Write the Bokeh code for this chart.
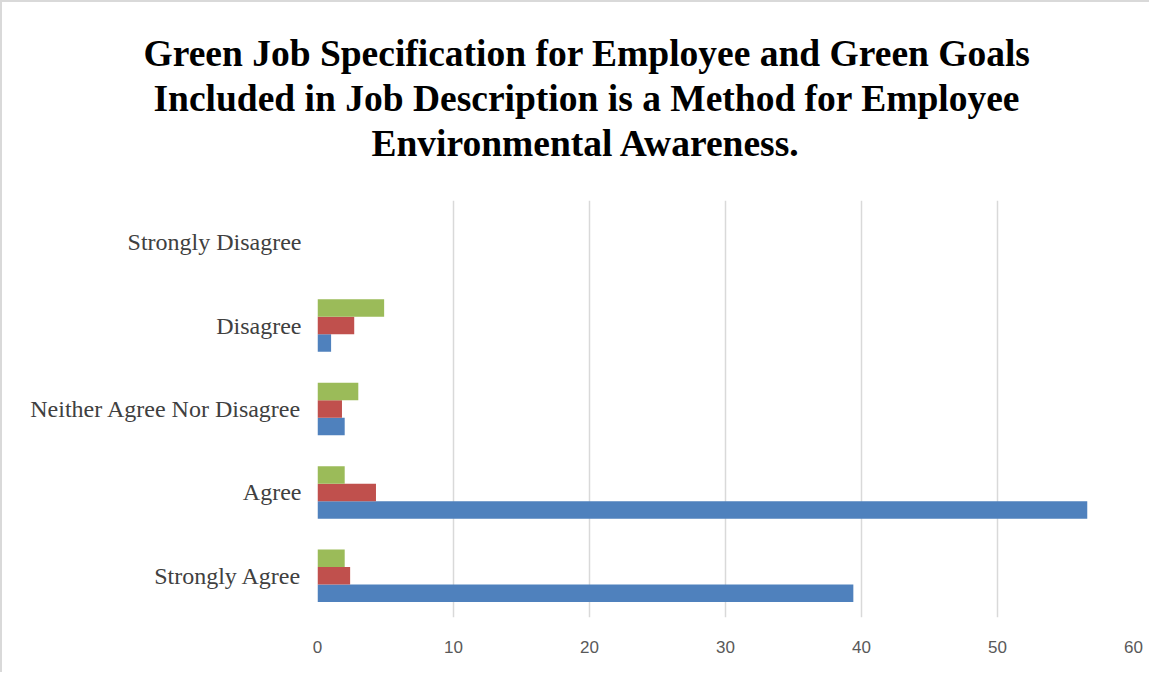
from bokeh.plotting import figure
from bokeh.models import ColumnDataSource, FactorRange, Range1d, Title, FixedTicker
from bokeh.transform import dodge
from bokeh.embed import file_html
from bokeh.resources import INLINE

categories = ["Strongly Agree", "Agree", "Neither Agree Nor Disagree", "Disagree", "Strongly Disagree"]
series_blue = [39.4, 56.6, 2.0, 1.0, 0.0]
series_red = [2.4, 4.3, 1.8, 2.7, 0.0]
series_green = [2.0, 2.0, 3.0, 4.9, 0.0]
x_ticks = [0, 10, 20, 30, 40, 50, 60]
title_lines = [
    "Green Job Specification for Employee and Green Goals",
    "Included in Job Description is a Method for Employee",
    "Environmental Awareness.",
]
title_offsets = [-174, -164, 54]

source = ColumnDataSource(dict(cat=categories, blue=series_blue, red=series_red, green=series_green))

p = figure(
    width=1149, height=672,
    y_range=FactorRange(factors=categories),
    x_range=Range1d(0, 60),
    output_backend="svg", toolbar_location=None,
    min_border_left=315, min_border_right=18, min_border_top=198, min_border_bottom=57,
)
p.title = None
p.outline_line_color = None
p.styles = {"border-left": "2px solid #d9d9d9", "border-top": "2px solid #d9d9d9", "box-sizing": "border-box"}

bh = 0.21
p.hbar(y=dodge("cat", -bh, range=p.y_range), right="blue", left=0, height=bh, source=source,
       fill_color="#4F81BD", line_color=None)
p.hbar(y=dodge("cat", 0, range=p.y_range), right="red", left=0, height=bh, source=source,
       fill_color="#C0504D", line_color=None)
p.hbar(y=dodge("cat", bh, range=p.y_range), right="green", left=0, height=bh, source=source,
       fill_color="#9BBB59", line_color=None)

p.add_layout(Title(text=" ", text_font_size="21.5px", align="center"), "above")
for line, off in reversed(list(zip(title_lines, title_offsets))):
    p.add_layout(Title(text=line, text_font="Liberation Serif", text_font_size="37.5px",
                       text_font_style="bold", text_color="#000000", align="left",
                       offset=off, standoff=2), "above")

p.xaxis.ticker = FixedTicker(ticks=x_ticks)
p.xaxis.axis_line_color = None
p.xaxis.major_tick_line_color = None
p.xaxis.minor_tick_line_color = None
p.xaxis.major_label_text_font = "Liberation Sans"
p.xaxis.major_label_text_font_size = "17px"
p.xaxis.major_label_text_color = "#595959"
p.xaxis.major_label_standoff = 17

p.yaxis.axis_line_color = None
p.yaxis.major_tick_line_color = None
p.yaxis.minor_tick_line_color = None
p.yaxis.major_label_text_font = "Liberation Serif"
p.yaxis.major_label_text_font_size = "24px"
p.yaxis.major_label_text_color = "#404040"
p.yaxis.major_label_standoff = 10

p.xgrid.grid_line_color = "#D9D9D9"
p.xgrid.grid_line_width = 1.5
p.ygrid.grid_line_color = None

open("out.html", "w").write(file_html(p, INLINE))
